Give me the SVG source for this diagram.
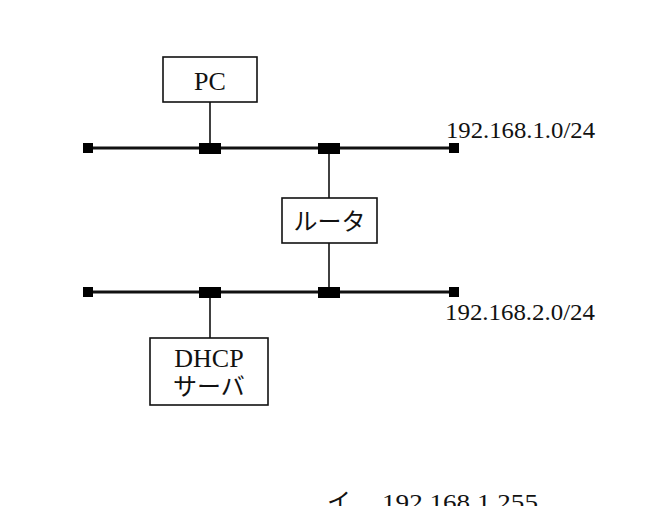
<svg xmlns="http://www.w3.org/2000/svg" width="658" height="506" viewBox="0 0 658 506">
<style>
.box{fill:#fff;stroke:#111;stroke-width:1.6}
.bus{stroke:#111;stroke-width:3}
.drop{stroke:#111;stroke-width:1.6}
.j{fill:#000}
text{font-family:"Liberation Serif","Noto Sans CJK JP",serif;font-size:24px;fill:#111}
.c{text-anchor:middle}
.big{font-size:26px}
</style>
<rect width="658" height="506" fill="#fff"/>
<g id="connectors">
<line class="bus" x1="88" y1="148" x2="454" y2="148"/>
<line class="bus" x1="88" y1="292" x2="454" y2="292"/>
<line class="drop" x1="210" y1="102" x2="210" y2="148"/>
<line class="drop" x1="329" y1="148" x2="329" y2="198"/>
<line class="drop" x1="329" y1="243" x2="329" y2="292"/>
<line class="drop" x1="210" y1="292" x2="210" y2="338"/>
<rect class="j" x="83" y="143" width="10" height="10"/>
<rect class="j" x="449" y="143" width="10" height="10"/>
<rect class="j" x="199" y="143" width="22" height="11"/>
<rect class="j" x="318" y="143" width="22" height="11"/>
<rect class="j" x="83" y="287" width="10" height="10"/>
<rect class="j" x="449" y="287" width="10" height="10"/>
<rect class="j" x="199" y="287" width="22" height="11"/>
<rect class="j" x="318" y="287" width="22" height="11"/>
</g>
<g id="pc">
<rect class="box" x="163" y="57" width="94" height="45"/>
<text class="c big" x="210" y="90">PC</text>
</g>
<g id="router">
<rect class="box" x="282" y="198" width="95" height="45"/>
<text class="c" x="329.5" y="230">ルータ</text>
</g>
<g id="dhcp">
<rect class="box" x="150" y="338" width="118" height="67"/>
<text class="c big" x="209" y="367">DHCP</text>
<text class="c" x="209" y="395">サーバ</text>
</g>
<g id="labels">
<text x="446" y="138" textLength="149" lengthAdjust="spacingAndGlyphs">192.168.1.0/24</text>
<text x="445" y="320" textLength="150" lengthAdjust="spacingAndGlyphs">192.168.2.0/24</text>
<text x="327" y="510">イ</text>
<text x="382" y="510" textLength="156" lengthAdjust="spacingAndGlyphs">192.168.1.255</text>
</g>
</svg>
